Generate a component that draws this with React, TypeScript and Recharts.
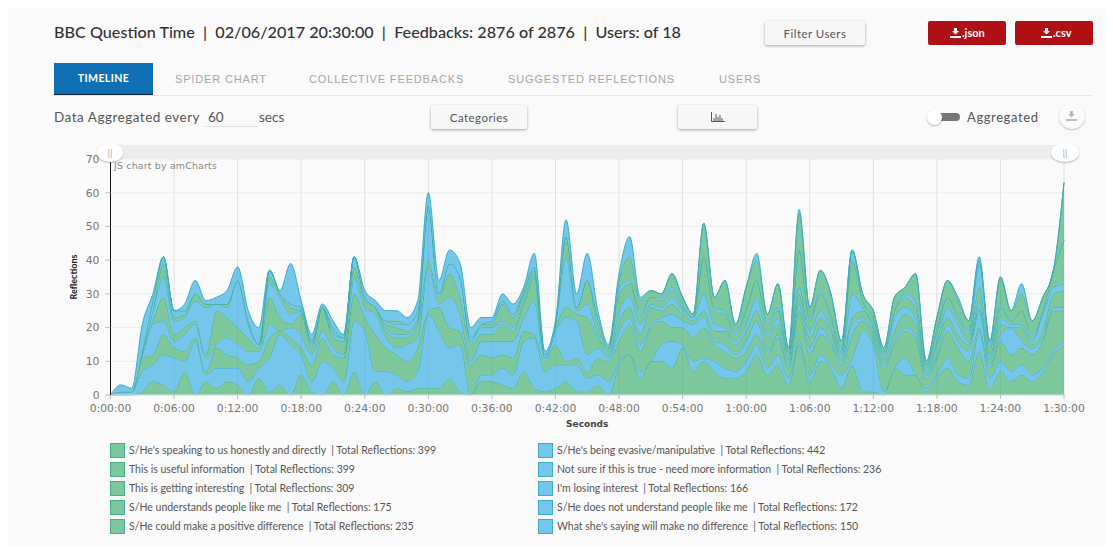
import React from "react";
import { AreaChart, Area, XAxis, YAxis, CartesianGrid, ReferenceLine, Label } from "recharts";

const GREEN = "#7cc79b";
const BLUE = "#74c6ea";
const GREEN_LINE = "#45ae8c";
const BLUE_LINE = "#38aecb";

const minutes = Array.from({ length: 91 }, (_, i) => i);
const xTicks = [0, 6, 12, 18, 24, 30, 36, 42, 48, 54, 60, 66, 72, 78, 84, 90];
const xTickLabels = ["0:00:00", "0:06:00", "0:12:00", "0:18:00", "0:24:00", "0:30:00", "0:36:00", "0:42:00", "0:48:00", "0:54:00", "1:00:00", "1:06:00", "1:12:00", "1:18:00", "1:24:00", "1:30:00"];
const yTicks = [0, 10, 20, 30, 40, 50, 60, 70];

// reflections per minute, bottom of the stack first
const speaking = [
  0,0,0,1,4,3,1,7,0,4, 2,4,3,0,5,1,3,0,6,1, 0,4,0,7,0,4,0,2,1,2, 2,2,5,1,0,4,4,3,2,7,
  2,1,2,4,1,1,3,0,9,12, 5,10,10,8,14,7,10,7,5,5, 7,12,6,9,3,15,4,10,8,2, 9,1,1,0,8,6,6,1,5,8,
  4,3,13,2,7,4,6,4,7,12, 15,
];
const evasive = [
  0,1,1,6,5,9,10,3,16,2, 6,4,5,4,3,10,15,15,6,3, 10,4,4,15,19,3,7,4,3,5, 22,17,9,14,0,2,2,5,4,9,
  15,6,7,5,8,4,3,4,1,0, 2,0,5,8,1,3,1,3,3,2, 3,3,2,3,2,1,2,2,1,4, 2,18,14,1,0,5,0,1,1,3,
  2,2,6,3,3,3,3,2,1,1, 1,
];
const useful = [
  0,0,0,4,3,6,3,3,1,1, 6,4,3,5,2,6,1,2,2,5, 7,4,7,8,4,11,7,6,6,7, 1,7,6,4,9,6,5,4,5,3,
  1,3,6,1,2,2,5,6,6,9, 6,10,7,4,5,7,9,5,5,4, 3,3,4,5,3,9,6,6,6,3, 7,3,2,7,7,8,11,3,5,8,
  8,5,1,3,6,5,5,6,8,12, 9,
];
const notSure = [
  0,0,0,1,9,4,2,5,4,4, 1,5,4,4,3,4,0,3,4,3, 2,2,1,5,3,6,3,2,5,3, 13,1,9,5,1,4,5,4,5,4,
  10,1,4,13,11,5,3,1,3,2, 2,1,1,4,2,4,3,1,2,1, 3,4,1,1,1,2,2,2,1,1, 3,1,1,1,1,1,1,1,1,2,
  2,3,5,1,2,8,2,2,1,1, 1,
];
const interesting = [
  0,0,0,0,1,7,2,2,1,1, 10,6,5,4,1,8,4,1,6,2, 7,3,4,3,2,2,2,3,2,4, 2,2,7,5,5,2,2,5,3,4,
  7,0,1,3,2,11,3,1,3,3, 3,5,2,3,2,1,2,3,4,3, 3,3,4,3,2,3,3,3,3,1, 2,2,2,2,3,4,3,1,3,2,
  2,2,1,2,3,0,4,1,2,4, 5,
];
const losing = [
  0,0,0,1,3,6,4,3,6,14, 2,3,14,4,1,4,6,3,1,1, 0,1,1,3,1,0,1,1,1,1, 16,1,3,6,1,2,2,1,1,1,
  1,1,1,15,1,4,1,1,3,3, 3,1,1,2,1,1,5,2,1,1, 2,4,1,2,1,2,2,2,1,1, 7,1,1,1,4,2,2,1,1,3,
  3,1,2,1,2,1,1,1,5,2, 2,
];
const understands = [
  0,0,0,0,0,4,1,1,2,1, 0,1,0,1,0,2,1,2,0,1, 0,1,0,0,0,0,1,2,1,1, 0,0,0,0,0,1,1,5,3,2,
  1,0,0,6,1,7,3,1,5,4, 3,2,2,2,1,0,11,4,4,2, 4,5,3,2,1,11,3,5,3,1, 10,2,2,1,2,3,3,1,3,3,
  2,2,4,2,3,1,4,1,1,5, 13,
];
const notUnderstand = [
  0,0,0,0,3,2,2,1,0,0, 0,0,0,0,0,2,0,1,1,0, 0,1,0,0,0,0,1,1,2,2, 0,0,0,0,1,0,1,1,1,1,
  1,0,0,0,0,0,2,0,2,1, 1,0,1,1,1,0,0,1,1,1, 1,0,1,1,0,0,1,1,1,1, 3,0,0,0,0,1,2,0,1,0,
  1,1,7,1,1,0,0,1,0,0, 0,
];
const positive = [
  0,0,0,0,0,0,0,0,0,0, 0,0,0,0,0,0,0,0,0,0, 0,0,0,0,0,0,0,1,0,0, 0,0,0,0,0,0,0,0,0,0,
  0,0,0,0,0,0,0,0,2,7, 3,2,1,4,2,1,10,3,9,2, 6,6,2,7,1,11,3,6,6,2, 0,2,2,1,4,2,8,1,3,5,
  4,3,1,1,8,3,5,4,4,0, 17,
];
const noDifference = [
  0,2,1,8,2,0,0,2,4,1, 2,4,4,3,5,0,1,12,2,2, 1,2,1,0,2,2,3,3,2,3, 4,4,4,4,3,2,1,2,3,1,
  4,1,1,5,4,8,2,1,2,6, 1,0,0,0,0,0,0,0,0,0, 0,2,0,0,0,1,0,0,0,0, 0,0,0,0,0,0,0,0,0,0,
  1,0,1,0,0,0,3,0,0,0, 0,
];

const stack = [
  { key: "speaking", values: speaking, color: GREEN, line: GREEN_LINE },
  { key: "evasive", values: evasive, color: BLUE, line: BLUE_LINE },
  { key: "useful", values: useful, color: GREEN, line: GREEN_LINE },
  { key: "notSure", values: notSure, color: BLUE, line: BLUE_LINE },
  { key: "interesting", values: interesting, color: GREEN, line: GREEN_LINE },
  { key: "losing", values: losing, color: BLUE, line: BLUE_LINE },
  { key: "understands", values: understands, color: GREEN, line: GREEN_LINE },
  { key: "notUnderstand", values: notUnderstand, color: BLUE, line: BLUE_LINE },
  { key: "positive", values: positive, color: GREEN, line: GREEN_LINE },
  { key: "noDifference", values: noDifference, color: BLUE, line: BLUE_LINE },
];

const chartData = minutes.map((m, i) => {
  const row: Record<string, number> = { minute: m };
  stack.forEach((s) => { row[s.key] = s.values[i]; });
  return row;
});

const greenLegend = [
  "S/He's speaking to us honestly and directly  | Total Reflections: 399",
  "This is useful information  | Total Reflections: 399",
  "This is getting interesting  | Total Reflections: 309",
  "S/He understands people like me  | Total Reflections: 175",
  "S/He could make a positive difference  | Total Reflections: 235",
];
const blueLegend = [
  "S/He's being evasive/manipulative  | Total Reflections: 442",
  "Not sure if this is true - need more information  | Total Reflections: 236",
  "I'm losing interest  | Total Reflections: 166",
  "S/He does not understand people like me  | Total Reflections: 172",
  "What she's saying will make no difference  | Total Reflections: 150",
];
const tabs = [
  { label: "SPIDER CHART", x: 175 },
  { label: "COLLECTIVE FEEDBACKS", x: 309 },
  { label: "SUGGESTED REFLECTIONS", x: 508 },
  { label: "USERS", x: 719 },
];

const at = (left: number, top: number, width?: number, height?: number): React.CSSProperties => ({
  position: "absolute", left, top, width, height,
});

const raised: React.CSSProperties = {
  background: "#f7f7f7", boxShadow: "0 1px 3px rgba(0,0,0,.35)", borderRadius: 2, color: "#555",
  fontSize: 11.5, display: "flex", alignItems: "center", justifyContent: "center", letterSpacing: 0.45,
};

const Download = ({ color, x, y }: { color: string; x: number; y: number }) => (
  <svg style={at(x, y, 11, 10)} viewBox="0 0 11 10">
    <path d="M4 0h3v3h2L5.5 6.5 2 3h2z M0 8h11v2H0z" fill={color} />
  </svg>
);

const LegendColumn = ({ items, color, line, x }: { items: string[]; color: string; line: string; x: number }) => (
  <>
    {items.map((text, i) => (
      <React.Fragment key={text}>
        <div style={{ ...at(x, 443 + i * 19, 13, 13), background: color, border: `1px solid ${line}` }} />
        <div style={{ ...at(x + 19, 443 + i * 19, 420, 14), fontSize: 10.5, lineHeight: "14px", color: "#555", whiteSpace: "pre" }}>{text}</div>
      </React.Fragment>
    ))}
  </>
);

export default function App() {
  return (
    <div style={{ ...at(0, 0, 1113, 552), background: "#fff", overflow: "hidden", fontFamily: "Lato, sans-serif" }}>
      <div style={{ ...at(8, 8, 1097, 537), background: "#fafafa" }} />

      <div style={{ ...at(54, 22, 660, 20), fontSize: 16.2, fontWeight: 500, lineHeight: "20px", color: "#333", whiteSpace: "pre" }}>
        BBC Question Time  |  02/06/2017 20:30:00  |  Feedbacks: 2876 of 2876  |  Users: of 18
      </div>
      <div style={{ ...at(765, 21, 100, 24), ...raised }}>Filter Users</div>
      <div style={{ ...at(928, 21, 78, 24), background: "#b01116", borderRadius: 2, color: "#fff", fontSize: 11, fontWeight: 700, lineHeight: "24px", paddingLeft: 34, boxSizing: "border-box" }}>.json</div>
      <Download color="#fff" x={950} y={28} />
      <div style={{ ...at(1015, 21, 78, 24), background: "#b01116", borderRadius: 2, color: "#fff", fontSize: 11, fontWeight: 700, lineHeight: "24px", paddingLeft: 38, boxSizing: "border-box" }}>.csv</div>
      <Download color="#fff" x={1041} y={28} />

      <div style={{ ...at(54, 63, 99, 32), background: "#0f6fb5", borderBottom: "1px solid #123", boxSizing: "border-box", color: "#fff", fontSize: 10.5, fontWeight: 700, lineHeight: "31px", textAlign: "center", letterSpacing: 0.4 }}>TIMELINE</div>
      {tabs.map((t) => (
        <div key={t.label} style={{ ...at(t.x, 72, 200, 14), fontFamily: "Liberation Sans, sans-serif", fontSize: 11, lineHeight: "14px", letterSpacing: 0.85, color: "#a6a6a6", whiteSpace: "nowrap" }}>{t.label}</div>
      ))}
      <div style={{ ...at(54, 95, 1039, 1), background: "#e6e6e6" }} />

      <div style={{ ...at(54, 109, 150, 16), fontSize: 13.5, lineHeight: "16px", letterSpacing: 0.5, color: "#555" }}>Data Aggregated every</div>
      <div style={{ ...at(208, 109, 30, 16), fontSize: 13.5, lineHeight: "16px", color: "#555" }}>60</div>
      <div style={{ ...at(205, 126, 53, 1), background: "#e2e2e2" }} />
      <div style={{ ...at(259, 109, 40, 16), fontSize: 13.5, lineHeight: "16px", color: "#555" }}>secs</div>
      <div style={{ ...at(431, 105, 96, 24), ...raised }}>Categories</div>
      <div style={{ ...at(678, 105, 79, 24), ...raised }}>
        <svg width="14" height="10" viewBox="0 0 14 10">
          <path d="M0.5 0v9.5H14M3 9V6M5 9V2M7 9V5M9 9V3M11 9V6" stroke="#555" strokeWidth="1" fill="none" />
        </svg>
      </div>
      <div style={{ ...at(933, 113, 27, 8), background: "#777", borderRadius: 4 }} />
      <div style={{ ...at(927, 110, 15, 15), background: "#fff", borderRadius: "50%", boxShadow: "0 1px 2px rgba(0,0,0,.3)" }} />
      <div style={{ ...at(967, 109, 80, 16), fontSize: 13, lineHeight: "16px", letterSpacing: 0.6, color: "#555" }}>Aggregated</div>
      <div style={{ ...at(1059, 103, 26, 26), background: "#fafafa", borderRadius: "50%", boxShadow: "0 1px 2px rgba(0,0,0,.25)" }} />
      <Download color="#bbb" x={1066} y={111} />

      <div style={at(0, 0, 1113, 552)}>
        <AreaChart width={1113} height={552} data={chartData} margin={{ top: 159, right: 49, bottom: 127, left: 50 }}>
          <CartesianGrid stroke="#ececec" vertical={true} horizontal={true} />
          <XAxis
            dataKey="minute"
            type="number"
            domain={[0, 90]}
            ticks={xTicks}
            tickFormatter={(v: number) => xTickLabels[xTicks.indexOf(v)]}
            height={30}
            tick={{ fill: "#777", fontSize: 10.8, fontFamily: "DejaVu Sans" }}
            tickLine={{ stroke: "#bbb" }}
            tickSize={4}
            tickMargin={5}
            axisLine={{ stroke: "#ddd" }}
            interval={0}
          >
            <Label value="Seconds" position="bottom" offset={-4} style={{ fill: "#444", fontSize: 9, fontWeight: 700, fontFamily: "DejaVu Sans" }} />
          </XAxis>
          <YAxis
            type="number"
            domain={[0, 70]}
            ticks={yTicks}
            width={60.5}
            tick={{ fill: "#777", fontSize: 10.8, fontFamily: "DejaVu Sans" }}
            tickLine={{ stroke: "#bbb" }}
            tickSize={5}
            tickMargin={6}
            axisLine={{ stroke: "#111", strokeWidth: 1 }}
            interval={0}
          >
            <Label value="Reflections" angle={-90} position="insideLeft" offset={24} style={{ fill: "#222", fontSize: 9, fontFamily: "Lato", fontWeight: 700, textAnchor: "middle" }} />
          </YAxis>
          {stack.map((s) => (
            <Area
              key={s.key}
              dataKey={s.key}
              stackId="all"
              type="monotone"
              fill={s.color}
              fillOpacity={1}
              stroke={s.line}
              strokeWidth={1}
              dot={false}
              activeDot={false}
              isAnimationActive={false}
            />
          ))}
          {xTicks.map((t) => (
            <ReferenceLine key={t} x={t} stroke="rgba(0,0,0,0.05)" />
          ))}
        </AreaChart>
      </div>

      <div style={{ ...at(110, 145, 954, 14), background: "#ededed" }} />
      <div style={{ ...at(97, 143, 26, 19), background: "#fff", borderRadius: "50%", boxShadow: "0 1px 2px rgba(0,0,0,.25)", color: "#aaa", fontSize: 10, lineHeight: "18px", textAlign: "center" }}>||</div>
      <div style={{ ...at(1051, 143, 28, 19), background: "#fff", borderRadius: "50%", boxShadow: "0 1px 2px rgba(0,0,0,.25)", color: "#aaa", fontSize: 10, lineHeight: "18px", textAlign: "center" }}>||</div>
      <div style={{ ...at(114, 160, 130, 12), fontFamily: "DejaVu Sans", fontSize: 9.4, lineHeight: "12px", letterSpacing: 0.2, color: "#888" }}>JS chart by amCharts</div>

      <LegendColumn items={greenLegend} color={GREEN} line={GREEN_LINE} x={110} />
      <LegendColumn items={blueLegend} color={BLUE} line={BLUE_LINE} x={538} />
    </div>
  );
}
